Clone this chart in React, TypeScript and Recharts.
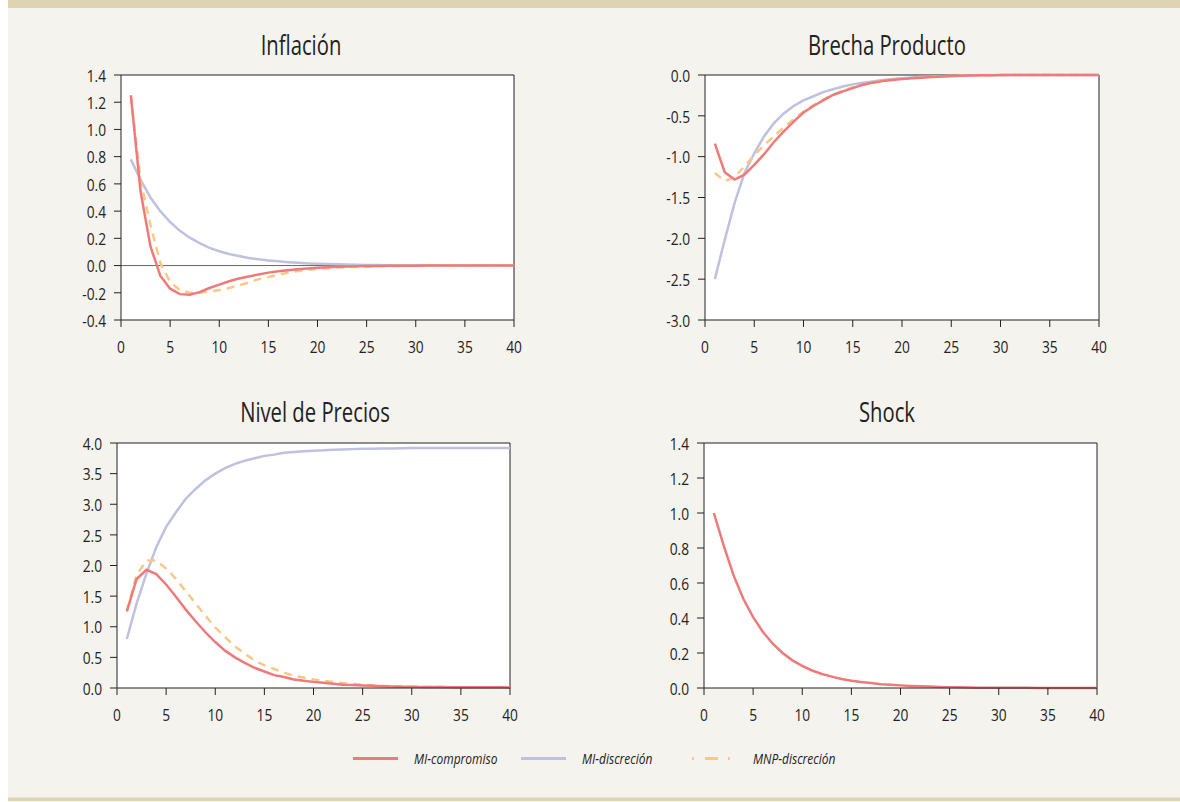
import {
    LineChart,
    Line,
    XAxis,
    YAxis,
    CartesianGrid,
    ReferenceLine,
} from 'recharts';

// Periods (quarters after the shock)
const periods = [
    1, 2, 3, 4, 5, 6, 7, 8, 9, 10, 11, 12, 13, 14, 15, 16, 17, 18, 19, 20,
    21, 22, 23, 24, 25, 26, 27, 28, 29, 30, 31, 32, 33, 34, 35, 36, 37, 38, 39, 40,
];
const xTicks = [0, 5, 10, 15, 20, 25, 30, 35, 40];

// Inflación
const inflCompromiso = [
    1.25, 0.54, 0.14, -0.075, -0.17, -0.21, -0.215, -0.195, -0.165, -0.14,
    -0.115, -0.095, -0.08, -0.065, -0.052, -0.042, -0.034, -0.027, -0.021, -0.016,
    -0.012, -0.009, -0.007, -0.005, -0.004, -0.003, -0.002, -0.002, -0.001, -0.001,
    0, 0, 0, 0, 0, 0, 0, 0, 0, 0,
];
const inflDiscrecion = [
    0.78, 0.63, 0.5, 0.4, 0.32, 0.255, 0.205, 0.165, 0.13, 0.105,
    0.085, 0.07, 0.056, 0.046, 0.038, 0.031, 0.025, 0.02, 0.016, 0.013,
    0.011, 0.009, 0.007, 0.006, 0.005, 0.004, 0.003, 0.003, 0.002, 0.002,
    0.002, 0.001, 0.001, 0.001, 0.001, 0, 0, 0, 0, 0,
];
const inflMnp = [
    1.25, 0.62, 0.3, 0.02, -0.12, -0.18, -0.2, -0.2, -0.19, -0.18,
    -0.165, -0.145, -0.125, -0.1, -0.085, -0.068, -0.052, -0.04, -0.031, -0.024,
    -0.019, -0.015, -0.012, -0.01, -0.008, -0.006, -0.004, -0.003, -0.002, -0.001,
    0, 0, 0, 0, 0, 0, 0, 0, 0, 0,
];
const inflTicks = [-0.4, -0.2, 0, 0.2, 0.4, 0.6, 0.8, 1.0, 1.2, 1.4];

// Brecha Producto
const brechaCompromiso = [
    -0.84, -1.19, -1.28, -1.22, -1.1, -0.97, -0.82, -0.69, -0.57, -0.46,
    -0.38, -0.31, -0.245, -0.2, -0.16, -0.12, -0.095, -0.075, -0.06, -0.05,
    -0.04, -0.033, -0.025, -0.017, -0.012, -0.008, -0.005, -0.003, -0.002, -0.001,
    0, 0, 0, 0, 0, 0, 0, 0, 0, 0,
];
const brechaDiscrecion = [
    -2.5, -2.02, -1.57, -1.2, -0.96, -0.75, -0.59, -0.47, -0.38, -0.31,
    -0.26, -0.21, -0.175, -0.14, -0.115, -0.094, -0.078, -0.062, -0.05, -0.04,
    -0.032, -0.026, -0.02, -0.016, -0.012, -0.009, -0.006, -0.004, -0.003, -0.002,
    -0.001, -0.001, 0, 0, 0, 0, 0, 0, 0, 0,
];
const brechaMnp = [
    -1.2, -1.3, -1.25, -1.12, -0.98, -0.86, -0.75, -0.64, -0.54, -0.45,
    -0.37, -0.3, -0.24, -0.19, -0.15, -0.12, -0.092, -0.072, -0.057, -0.046,
    -0.037, -0.03, -0.023, -0.017, -0.012, -0.008, -0.005, -0.003, -0.002, -0.001,
    0, 0, 0, 0, 0, 0, 0, 0, 0, 0,
];
const brechaTicks = [-3.0, -2.5, -2.0, -1.5, -1.0, -0.5, 0];

// Nivel de Precios
const preciosCompromiso = [
    1.25, 1.78, 1.93, 1.86, 1.69, 1.49, 1.28, 1.09, 0.91, 0.75,
    0.61, 0.5, 0.41, 0.33, 0.27, 0.21, 0.18, 0.14, 0.12, 0.1,
    0.085, 0.07, 0.055, 0.048, 0.04, 0.035, 0.03, 0.025, 0.022, 0.02,
    0.018, 0.016, 0.015, 0.014, 0.013, 0.012, 0.012, 0.011, 0.011, 0.01,
];
const preciosDiscrecion = [
    0.8, 1.38, 1.87, 2.3, 2.63, 2.87, 3.09, 3.25, 3.39, 3.5,
    3.59, 3.66, 3.71, 3.75, 3.79, 3.81, 3.84, 3.855, 3.865, 3.875,
    3.88, 3.89, 3.895, 3.9, 3.905, 3.905, 3.91, 3.91, 3.915, 3.92,
    3.92, 3.92, 3.92, 3.92, 3.92, 3.92, 3.92, 3.92, 3.92, 3.92,
];
const preciosMnp = [
    1.25, 1.85, 2.08, 2.08, 1.95, 1.78, 1.58, 1.38, 1.18, 0.99,
    0.83, 0.68, 0.56, 0.45, 0.37, 0.31, 0.25, 0.2, 0.17, 0.14,
    0.12, 0.1, 0.08, 0.065, 0.055, 0.045, 0.035, 0.03, 0.025, 0.02,
    0.018, 0.016, 0.015, 0.014, 0.013, 0.012, 0.012, 0.011, 0.011, 0.01,
];
const preciosTicks = [0, 0.5, 1.0, 1.5, 2.0, 2.5, 3.0, 3.5, 4.0];

// Shock
const shockCompromiso = [
    1.0, 0.815, 0.645, 0.51, 0.405, 0.32, 0.253, 0.2, 0.158, 0.126,
    0.1, 0.08, 0.065, 0.051, 0.042, 0.034, 0.028, 0.022, 0.018, 0.015,
    0.012, 0.01, 0.008, 0.006, 0.005, 0.004, 0.003, 0.002, 0.002, 0.001,
    0.001, 0.001, 0.001, 0, 0, 0, 0, 0, 0, 0,
];
const shockTicks = [0, 0.2, 0.4, 0.6, 0.8, 1.0, 1.2, 1.4];

const seriesNames = ['MI-compromiso', 'MI-discreción', 'MNP-discreción'];

const RED = '#EE7A7A';
const LAVENDER = '#BFC1DE';
const ORANGE = '#F8C888';
const INK = '#222';
const FONT = '"Open Sans", "Noto Sans", sans-serif';

const PLOT_H = 245;

const XTick = ({ x, y, payload }: any) => (
    <g transform={`translate(${x},${y})`}>
        <text
            textAnchor="middle"
            dy="0.71em"
            transform="scale(0.86,1)"
            fontSize={16}
            fill={INK}
            fontFamily={FONT}
        >
            {payload.value}
        </text>
    </g>
);

const YTick = ({ x, y, payload }: any) => (
    <g transform={`translate(${x},${y})`}>
        <text
            textAnchor="end"
            dy="0.42em"
            transform="scale(0.86,1)"
            fontSize={16}
            fill={INK}
            fontFamily={FONT}
        >
            {Number(payload.value).toFixed(1)}
        </text>
    </g>
);

type PanelProps = {
    title: string;
    titleX: number;
    titleY: number;
    left: number; // plot area left edge
    top: number; // plot area top edge
    width: number; // plot area width
    yTicks: number[];
    compromiso: number[];
    discrecion?: number[];
    mnp?: number[];
    zeroLine?: boolean;
};

const Panel = ({
    title,
    titleX,
    titleY,
    left,
    top,
    width,
    yTicks,
    compromiso,
    discrecion,
    mnp,
    zeroLine,
}: PanelProps) => {
    const data = periods.map((t, i) => ({
        t,
        compromiso: compromiso[i],
        discrecion: discrecion ? discrecion[i] : undefined,
        mnp: mnp ? mnp[i] : undefined,
    }));
    const domain: [number, number] = [yTicks[0], yTicks[yTicks.length - 1]];
    return (
        <>
            <div
                style={{
                    position: 'absolute',
                    left: titleX - 200,
                    top: titleY,
                    width: 400,
                    textAlign: 'center',
                    fontFamily: FONT,
                    fontSize: 27,
                    lineHeight: '27px',
                    color: INK,
                    transform: 'scaleX(0.75)',
                }}
            >
                {title}
            </div>
            <div style={{ position: 'absolute', left: left - 60, top: top - 15 }}>
                <LineChart
                    width={60 + width + 15}
                    height={15 + PLOT_H + 40 + 5}
                    data={data}
                    margin={{ top: 15, right: 15, bottom: 5, left: 0 }}
                >
                    <CartesianGrid
                        fill="#fff"
                        horizontal={false}
                        vertical={false}
                    />
                    <XAxis
                        dataKey="t"
                        type="number"
                        domain={[0, 40]}
                        ticks={xTicks}
                        interval={0}
                        height={40}
                        tickSize={7}
                        tickMargin={15}
                        axisLine={{ stroke: INK }}
                        tickLine={{ stroke: INK }}
                        tick={XTick}
                    />
                    <YAxis
                        type="number"
                        domain={domain}
                        ticks={yTicks}
                        interval={0}
                        width={60}
                        tickSize={7}
                        tickMargin={8}
                        axisLine={{ stroke: INK }}
                        tickLine={{ stroke: INK }}
                        tick={YTick}
                    />
                    {/* frame: top and right edges of the plot box */}
                    <ReferenceLine y={domain[1]} stroke={INK} strokeWidth={1} />
                    <ReferenceLine x={40} stroke={INK} strokeWidth={1} />
                    {zeroLine && (
                        <ReferenceLine y={0} stroke="#666" strokeWidth={1} />
                    )}
                    {discrecion && (
                        <Line
                            type="linear"
                            dataKey="discrecion"
                            name={seriesNames[1]}
                            stroke={LAVENDER}
                            strokeWidth={2.5}
                            dot={false}
                            isAnimationActive={false}
                        />
                    )}
                    {mnp && (
                        <Line
                            type="linear"
                            dataKey="mnp"
                            name={seriesNames[2]}
                            stroke={ORANGE}
                            strokeWidth={2.5}
                            strokeDasharray="8 6"
                            dot={false}
                            isAnimationActive={false}
                        />
                    )}
                    <Line
                        type="linear"
                        dataKey="compromiso"
                        name={seriesNames[0]}
                        stroke={RED}
                        strokeWidth={2.5}
                        dot={false}
                        isAnimationActive={false}
                    />
                </LineChart>
            </div>
        </>
    );
};

const LegendRow = () => {
    const items = [
        { x: 353, textX: 414, color: RED, dash: undefined },
        { x: 521, textX: 582, color: LAVENDER, dash: undefined },
        { x: 692, textX: 753, color: ORANGE, dash: '2 11 13 10' },
    ];
    return (
        <svg
            width={1180}
            height={40}
            style={{ position: 'absolute', left: 0, top: 740 }}
        >
            {items.map((it, i) => (
                <g key={seriesNames[i]}>
                    <line
                        x1={it.x}
                        x2={it.x + 45}
                        y1={18.5}
                        y2={18.5}
                        stroke={it.color}
                        strokeWidth={3}
                        strokeDasharray={it.dash}
                    />
                    <text
                        transform={`translate(${it.textX},24) scale(0.8,1)`}
                        fontSize={15}
                        fontStyle="italic"
                        fill={INK}
                        fontFamily={FONT}
                    >
                        {seriesNames[i]}
                    </text>
                </g>
            ))}
        </svg>
    );
};

export default function App() {
    return (
        <div
            style={{
                position: 'absolute',
                left: 0,
                top: 0,
                width: 1180,
                height: 802,
                overflow: 'hidden',
            }}
        >
            <div
                style={{
                    position: 'absolute',
                    left: 8,
                    top: 0,
                    width: 1172,
                    height: 802,
                    background: '#F5F3EE',
                }}
            />
            <div
                style={{
                    position: 'absolute',
                    left: 8,
                    top: 0,
                    width: 1172,
                    height: 8,
                    background: '#DFD4B2',
                }}
            />
            <div
                style={{
                    position: 'absolute',
                    left: 8,
                    top: 797,
                    width: 1172,
                    height: 1,
                    background: '#EAE3CC',
                }}
            />
            <div
                style={{
                    position: 'absolute',
                    left: 8,
                    top: 798,
                    width: 1172,
                    height: 3,
                    background: '#DFD4B2',
                }}
            />
            <Panel
                title="Inflación"
                titleX={301}
                titleY={31}
                left={121}
                top={75}
                width={393}
                yTicks={inflTicks}
                compromiso={inflCompromiso}
                discrecion={inflDiscrecion}
                mnp={inflMnp}
                zeroLine
            />
            <Panel
                title="Brecha Producto"
                titleX={887}
                titleY={31}
                left={705}
                top={75}
                width={394}
                yTicks={brechaTicks}
                compromiso={brechaCompromiso}
                discrecion={brechaDiscrecion}
                mnp={brechaMnp}
            />
            <Panel
                title="Nivel de Precios"
                titleX={315}
                titleY={398}
                left={117}
                top={443}
                width={393}
                yTicks={preciosTicks}
                compromiso={preciosCompromiso}
                discrecion={preciosDiscrecion}
                mnp={preciosMnp}
            />
            <Panel
                title="Shock"
                titleX={887}
                titleY={398}
                left={704}
                top={443}
                width={393}
                yTicks={shockTicks}
                compromiso={shockCompromiso}
            />
            <LegendRow />
        </div>
    );
}
